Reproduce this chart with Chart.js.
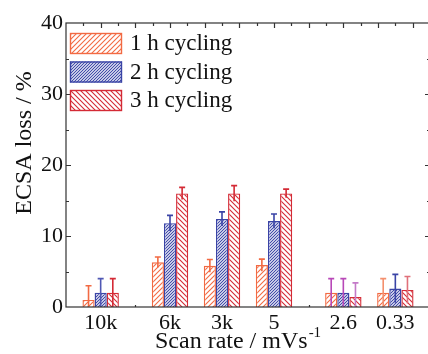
<!DOCTYPE html>
<html>
<head>
<meta charset="utf-8">
<script src="https://cdn.jsdelivr.net/npm/chart.js@4/dist/chart.umd.min.js"></script>
<style>
  html, body { margin: 0; padding: 0; background: #fff; overflow: hidden; }
  #wrap { position: relative; width: 432px; height: 354px; }
</style>
</head>
<body>
<div id="wrap"><canvas id="ecsa"></canvas></div>
<script>
// scan rates and where each group sits on the x axis
const rateLabels = ['10k', '6k', '3k', '5', '2.6', '0.33'];
const ratePos = [1, 3, 4.5, 6, 8, 9.5];
const seriesNames = ['1 h cycling', '2 h cycling', '3 h cycling'];

// ECSA loss (%) and error for each cycling time
const loss1h = [1.0, 6.3, 5.8, 5.9, 2.0, 2.0];
const err1h = [2.0, 0.75, 0.9, 0.85, 2.0, 2.0];
const loss2h = [2.0, 11.8, 12.4, 12.1, 2.0, 2.6];
const err2h = [2.0, 1.1, 1.0, 1.0, 2.0, 2.0];
const loss3h = [2.0, 16.0, 16.0, 16.0, 1.4, 2.4];
const err3h = [2.0, 0.85, 1.1, 0.6, 2.0, 1.9];

const yTicks = [0, 10, 20, 30, 40];

const serif = "'Liberation Serif', serif";
Chart.defaults.font.family = serif;
Chart.defaults.color = '#111';

const canvas = document.getElementById('ecsa');
const ctx = canvas.getContext('2d');

function hatch(color, size, dir, lw) {
    const c = document.createElement('canvas');
    c.width = size;
    c.height = size;
    const g = c.getContext('2d');
    g.fillStyle = '#fff';
    g.fillRect(0, 0, size, size);
    g.strokeStyle = color;
    g.lineWidth = lw;
    g.beginPath();
    if (dir > 0) {
        g.moveTo(-1, 1); g.lineTo(1, -1);
        g.moveTo(0, size); g.lineTo(size, 0);
        g.moveTo(size - 1, size + 1); g.lineTo(size + 1, size - 1);
    } else {
        g.moveTo(-1, size - 1); g.lineTo(1, size + 1);
        g.moveTo(0, 0); g.lineTo(size, size);
        g.moveTo(size - 1, -1); g.lineTo(size + 1, 1);
    }
    g.stroke();
    return ctx.createPattern(c, 'repeat');
}

const orange = '#f26a43';
const blue = '#3a44a6';
const red = '#d42a35';

function makeSet(i, values, errs, color, fill, errColors) {
    return {
        label: seriesNames[i],
        data: ratePos.map((x, k) => ({ x: x, y: values[k] })),
        errors: errs,
        errColors: errColors,
        backgroundColor: fill,
        borderColor: color,
        borderWidth: 1.4
    };
}

const datasets = [
    makeSet(0, loss1h, err1h, orange, hatch(orange, 5, 1, 1.1),
        [orange, orange, orange, orange, '#b848b8', '#f4906e']),
    makeSet(1, loss2h, err2h, blue, hatch(blue, 3, 1, 1.1),
        ['#5058b4', blue, blue, blue, '#b848b8', blue]),
    makeSet(2, loss3h, err3h, red, hatch(red, 5, -1, 1.1),
        [red, red, red, red, '#c47ac8', '#e0707a'])
];

// error bars: vertical line through the bar top with a cap on the upper end
const errorBars = {
    id: 'errorBars',
    afterDatasetsDraw(chart) {
        const c = chart.ctx;
        const ys = chart.scales.y;
        c.save();
        c.lineWidth = 1.6;
        chart.data.datasets.forEach((ds, di) => {
            const meta = chart.getDatasetMeta(di);
            meta.data.forEach((bar, k) => {
                const v = ds.data[k].y;
                const e = ds.errors[k];
                const top = ys.getPixelForValue(v + e);
                const bot = ys.getPixelForValue(Math.max(v - e, 0));
                c.strokeStyle = ds.errColors[k];
                c.beginPath();
                c.moveTo(bar.x, bot);
                c.lineTo(bar.x, top);
                c.moveTo(bar.x - 3, top);
                c.lineTo(bar.x + 3, top);
                c.stroke();
            });
        });
        c.restore();
    }
};

// box frame with inward ticks, axis titles and the legend
const frame = {
    id: 'frame',
    afterDraw(chart) {
        const c = chart.ctx;
        const a = chart.chartArea;
        const xs = chart.scales.x;
        const ys = chart.scales.y;
        c.save();
        c.strokeStyle = '#333';
        c.lineWidth = 1.2;
        c.strokeRect(a.left, a.top, a.right - a.left, a.bottom - a.top);

        c.beginPath();
        for (let v = 0.5; v < xs.max; v += 0.5) {
            const px = Math.round(xs.getPixelForValue(v)) + 0.5;
            const len = v % 1 === 0 ? 5 : 3;
            c.moveTo(px, a.top);
            c.lineTo(px, a.top + len);
        }
        [2, 7].forEach(v => {
            const px = Math.round(xs.getPixelForValue(v)) + 0.5;
            c.moveTo(px, a.bottom);
            c.lineTo(px, a.bottom - 2);
        });
        for (let v = 5; v < ys.max; v += 5) {
            const py = Math.round(ys.getPixelForValue(v)) + 0.5;
            const len = v % 10 === 0 ? 5 : 3;
            c.moveTo(a.left, py);
            c.lineTo(a.left + len, py);
            c.moveTo(a.right, py);
            c.lineTo(a.right - len, py);
        }
        c.stroke();

        c.fillStyle = '#111';
        c.font = '24px ' + serif;
        c.save();
        c.translate(25, 143);
        c.rotate(-Math.PI / 2);
        c.textAlign = 'center';
        c.textBaseline = 'middle';
        c.fillText('ECSA loss / %', 0, 0);
        c.restore();

        c.textAlign = 'left';
        c.textBaseline = 'alphabetic';
        const main = 'Scan rate / mVs';
        c.fillText(main, 155, 348);
        const w = c.measureText(main).width;
        c.font = '15px ' + serif;
        c.fillText('-1', 155 + w + 1, 337);

        c.font = '23px ' + serif;
        c.textBaseline = 'middle';
        chart.data.datasets.forEach((ds, i) => {
            const top = 33 + i * 28.5;
            c.fillStyle = ds.backgroundColor;
            c.fillRect(70, top, 52, 21);
            c.strokeStyle = ds.borderColor;
            c.lineWidth = 1.4;
            c.strokeRect(70.5, top + 0.5, 51, 20);
            c.fillStyle = '#111';
            c.fillText(ds.label, 130, top + 11);
        });
        c.restore();
    }
};

new Chart(ctx, {
    type: 'bar',
    data: { datasets: datasets },
    options: {
        responsive: true,
        maintainAspectRatio: false,
        animation: false,
        layout: { padding: { top: 23, right: 2, left: 0, bottom: 0 } },
        datasets: { bar: { barPercentage: 1, categoryPercentage: 0.7 } },
        plugins: { legend: { display: false }, tooltip: { enabled: false } },
        scales: {
            x: {
                type: 'linear',
                min: 0,
                max: 10.5,
                offset: false,
                grid: { display: false, drawTicks: false },
                border: { display: false },
                afterBuildTicks: s => { s.ticks = ratePos.map(v => ({ value: v })); },
                ticks: {
                    autoSkip: false,
                    maxRotation: 0,
                    padding: 3,
                    font: { family: serif, size: 22 },
                    callback: (v, i) => rateLabels[i]
                },
                afterFit: s => { s.height = 47; }
            },
            y: {
                min: 0,
                max: 40,
                grid: { display: false, drawTicks: false },
                border: { display: false },
                afterBuildTicks: s => { s.ticks = yTicks.map(v => ({ value: v })); },
                ticks: { padding: 3, font: { family: serif, size: 22 } },
                afterFit: s => { s.width = 66; }
            }
        }
    },
    plugins: [errorBars, frame]
});
</script>
</body>
</html>
